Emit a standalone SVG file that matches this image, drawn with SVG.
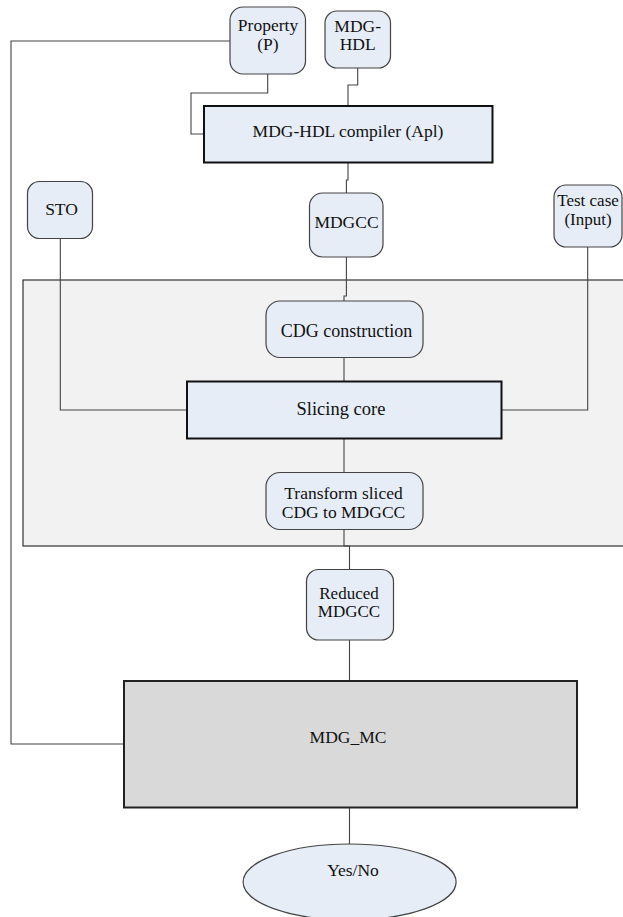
<svg xmlns="http://www.w3.org/2000/svg" width="623" height="917" viewBox="0 0 623 917">
<style>
.t{font-family:'Liberation Serif','Times New Roman','DejaVu Serif',serif;font-size:17.5px;fill:#111;text-anchor:middle}
.rn{fill:#e6edf7;stroke:#444;stroke-width:1.2}
.bx{fill:#e6edf7;stroke:#111;stroke-width:2}
.conn{fill:none;stroke:#444;stroke-width:1.1}
</style>
<rect width="623" height="917" fill="#fff"/>
<g id="region">
<rect x="23" y="280" width="602" height="266" fill="#f2f2f2" stroke="#333" stroke-width="1.2"/>
</g>
<g id="connectors">
<path class="conn" d="M267.7 74V93H191V134H204"/>
<path class="conn" d="M357.7 68V85H348V106"/>
<path class="conn" d="M348 163V180H346.4V193"/>
<path class="conn" d="M346.4 257V296H344V301"/>
<path class="conn" d="M60.3 238V410H187"/>
<path class="conn" d="M587.7 247V410H501"/>
<path class="conn" d="M344 357V381"/>
<path class="conn" d="M344 439V472"/>
<path class="conn" d="M344 529V546H349.5V569"/>
<path class="conn" d="M349.5 640V681"/>
<path class="conn" d="M349.5 808V844"/>
<path class="conn" d="M230 41H11V744H124"/>
</g>
<g font-family="Liberation Serif, Times New Roman, serif">
<g id="property">
<rect class="rn" x="230" y="7" width="75.5" height="67" rx="13"/>
<text class="t" x="268" y="31">Property</text>
<text class="t" x="268" y="50">(P)</text>
</g>
<g id="mdghdl">
<rect class="rn" x="325" y="11" width="65.5" height="57" rx="12"/>
<text class="t" x="357.7" y="31.5">MDG-</text>
<text class="t" x="357.7" y="50">HDL</text>
</g>
<g id="compiler">
<rect class="bx" x="204" y="106" width="288.5" height="56.5"/>
<text class="t" x="348" y="136.5" font-size="18">MDG-HDL compiler (Apl)</text>
</g>
<g id="sto">
<rect class="rn" x="27.5" y="181.5" width="65" height="57" rx="12"/>
<text class="t" x="61.5" y="214.5">STO</text>
</g>
<g id="mdgcc">
<rect class="rn" x="309.5" y="193" width="73.5" height="64" rx="13"/>
<text class="t" x="346.5" y="227.5">MDGCC</text>
</g>
<g id="testcase">
<rect class="rn" x="554" y="185" width="68" height="62" rx="12"/>
<text class="t" x="588" y="206" style="font-size:17px">Test case</text>
<text class="t" x="588" y="225" style="font-size:17px">(Input)</text>
</g>
<g id="cdg">
<rect class="rn" x="266" y="301" width="157" height="56.5" rx="14"/>
<text class="t" x="346.5" y="336.7" style="font-size:18px">CDG construction</text>
</g>
<g id="slicing">
<rect class="bx" x="187" y="381.5" width="314.5" height="57"/>
<text class="t" x="341" y="415" style="font-size:18.5px">Slicing core</text>
</g>
<g id="transform">
<rect class="rn" x="266" y="472.5" width="157" height="57" rx="14"/>
<text class="t" x="343.5" y="499" style="font-size:17.5px">Transform sliced</text>
<text class="t" x="343.5" y="518" style="font-size:17.5px">CDG to MDGCC</text>
</g>
<g id="reduced">
<rect class="rn" x="306.5" y="569.5" width="87" height="70.5" rx="12"/>
<text class="t" x="349" y="599" style="font-size:17px">Reduced</text>
<text class="t" x="349" y="617" style="font-size:17px">MDGCC</text>
</g>
<g id="mdgmc">
<rect x="124" y="681" width="453" height="126.5" fill="#d9d9d9" stroke="#222" stroke-width="2"/>
<text class="t" x="348" y="742.7">MDG_MC</text>
</g>
<g id="yesno">
<ellipse cx="349.6" cy="882" rx="106.5" ry="38" fill="#e6edf7" stroke="#444" stroke-width="1.2"/>
<text class="t" x="353" y="876">Yes/No</text>
</g>
</g>
</svg>
